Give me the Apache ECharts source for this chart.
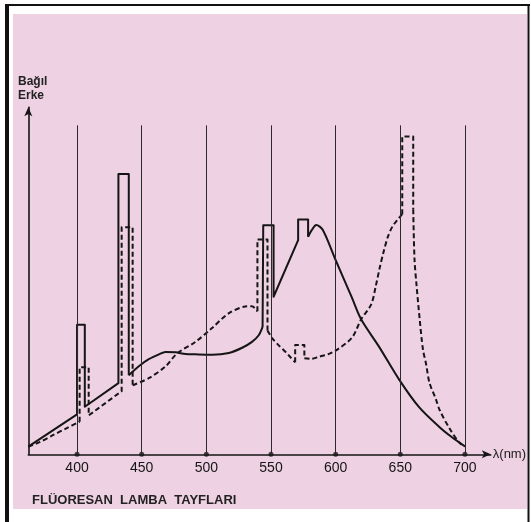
<!DOCTYPE html>
<html><head><meta charset="utf-8">
<script src="https://cdn.jsdelivr.net/npm/echarts@6/dist/echarts.min.js"></script>
<style>html,body{margin:0;padding:0;background:#fff}#c{width:531px;height:522px}</style>
</head><body><div id="c"></div>
<script>
// Wavelength ticks (nm)
const tickWavelengths = [400, 450, 500, 550, 600, 650, 700];
const gridLineTop = 94.8; // relative energy where the vertical guide lines stop

// Solid curve: wavelength (nm) and relative energy (0-100)
const solidWavelength = [362.3, 400, 400, 406, 406, 432, 432, 440, 440, 447.8, 455.5, 463.3, 468.4, 476.2, 483.9, 491.6, 504.5, 517.4, 527.7, 535.3, 540.5, 543.5, 544, 552, 552, 571, 571, 578.7, 578.7, 581.5, 585, 590, 599.4, 612.5, 619.7, 633.4, 649.5, 664.7, 680.4, 690, 700];
const solidEnergy     = [2.2, 11.5, 37.3, 37.3, 13.7, 20.5, 80.8, 80.8, 22.8, 25.4, 27.4, 28.8, 29.5, 29.4, 28.9, 28.8, 28.7, 29.2, 30.7, 32.4, 34.3, 36.7, 66.0, 66.0, 45.4, 61.7, 67.7, 67.7, 62.7, 64.6, 66.1, 64.7, 56.5, 45.2, 38.9, 31.1, 21.3, 13.5, 7.8, 4.9, 2.3];
// index ranges of the solid curve that are smooth continuum (the rest are mercury-line steps)
const solidSmoothSpans = [[8, 21], [28, 40]];

// Dashed curve: wavelength (nm) and relative energy (0-100)
const dashedWavelength = [362.3, 371, 381.3, 391.8, 402, 402, 409, 409, 434.5, 434.5, 443, 443, 455.8, 468.6, 477.5, 491.6, 504.4, 517.2, 530, 535.3, 537.5, 539.5, 539.5, 547.3, 547.3, 551, 556, 561.5, 564, 568.7, 568.7, 575.8, 575.8, 581, 587, 594, 601, 612.8, 619.7, 627.5, 631, 634, 637, 640.5, 644, 647.5, 651.5, 651.5, 660, 660, 661, 662.5, 665, 667.5, 670, 672.5, 677.5, 680.5, 688, 696, 700];
const dashedEnergy     = [2.2, 3.5, 5.5, 7.5, 9.4, 25.1, 25.1, 11.2, 18.2, 65.4, 65.4, 19.9, 22.0, 25.4, 29.1, 32.4, 36.4, 40.6, 42.6, 42.7, 42.1, 41.2, 61.9, 61.9, 35.7, 33.4, 31.4, 29.4, 28.4, 26.5, 31.5, 31.5, 27.7, 27.5, 28.1, 28.8, 30.1, 33.7, 38.9, 43.2, 48.4, 53.6, 58.2, 62.8, 65.7, 67.4, 69.2, 91.6, 91.6, 70.6, 56.2, 49.0, 38.9, 30.3, 25.9, 20.7, 15.9, 12.7, 7.5, 3.2, 2.3];
const dashedSmoothSpans = [[0, 4], [11, 21], [24, 29], [32, 46], [49, 60]];

const xAxisName = 'λ(nm)';
const yAxisName = 'Bağıl\nErke';
const titleText = 'FLÜORESAN  LAMBA  TAYFLARI';

const ink = '#151515';

function pieces(xs, ys, spans) {
  const pts = (a, b) => { const r = []; for (let i = a; i <= b; i++) r.push([xs[i], ys[i]]); return r; };
  const out = []; let cur = 0;
  spans.forEach(([a, b]) => {
    if (a > cur) out.push({smooth: false, data: pts(cur, a)});
    out.push({smooth: true, data: pts(a, b)});
    cur = b;
  });
  if (cur < xs.length - 1) out.push({smooth: false, data: pts(cur, xs.length - 1)});
  return out;
}

function lineSeries(parts, type) {
  return parts.map(p => ({
    type: 'line', z: 3, data: p.data, showSymbol: false,
    smooth: p.smooth ? 0.3 : false, silent: true,
    lineStyle: {color: ink, width: 2, type: type, join: 'round', cap: 'butt'}
  }));
}

const chart = echarts.init(document.getElementById('c'), null, {renderer: 'canvas'});
chart.setOption({
  animation: false,
  backgroundColor: '#eed1e2',
  title: {
    text: titleText, left: 27, top: 489,
    textStyle: {fontFamily: 'Liberation Sans', fontSize: 13, fontWeight: 'bold', color: '#222'}
  },
  grid: {left: 28.3, right: 40.2, top: 107.3, bottom: 67.7},
  xAxis: {
    type: 'value', min: 362.3, max: 720,
    name: xAxisName, nameLocation: 'end', nameGap: 2,
    nameTextStyle: {fontFamily: 'Liberation Sans', fontSize: 13, color: '#1a1a1a', verticalAlign: 'middle', padding: [12, 0, 0, 0]},
    axisLine: {show: true, symbol: ['none', 'arrow'], symbolSize: [6, 9], lineStyle: {color: ink, width: 1.6}},
    axisTick: {show: false, customValues: tickWavelengths},
    axisLabel: {customValues: tickWavelengths, margin: 7, fontFamily: 'Liberation Sans', fontSize: 14, color: '#151515'},
    splitLine: {show: false}
  },
  yAxis: {
    type: 'value', min: 0, max: 100,
    axisLine: {show: true, symbol: ['none', 'arrow'], symbolSize: [6, 9], lineStyle: {color: ink, width: 1.6}},
    axisTick: {show: false}, axisLabel: {show: false}, splitLine: {show: false}
  },
  graphic: [
    {type: 'rect', shape: {x: 0, y: 0, width: 13, height: 522}, style: {fill: '#fff'}, silent: true},
    {type: 'rect', shape: {x: 0, y: 0, width: 531, height: 14}, style: {fill: '#fff'}, silent: true},
    {type: 'rect', shape: {x: 527, y: 0, width: 4, height: 522}, style: {fill: '#fff'}, silent: true},
    {type: 'rect', shape: {x: 0, y: 509, width: 531, height: 13}, style: {fill: '#fff'}, silent: true},
    {type: 'rect', shape: {x: 5, y: 4, width: 4, height: 518}, style: {fill: '#111'}, silent: true},
    {type: 'rect', shape: {x: 5, y: 4, width: 525, height: 2}, style: {fill: '#111'}, silent: true},
    {type: 'rect', shape: {x: 527.5, y: 4, width: 2, height: 518}, style: {fill: '#111'}, silent: true},
    {type: 'text', left: 18, top: 75, style: {text: yAxisName, fontFamily: 'Liberation Sans', fontSize: 12, fontWeight: 'bold', lineHeight: 14, fill: '#222'}, silent: true}
  ],
  series: [
    {
      type: 'scatter', z: 1, symbol: 'circle', symbolSize: 5,
      itemStyle: {color: ink}, silent: true,
      data: tickWavelengths.map(w => [w, 0]),
      markLine: {
        silent: true, symbol: ['none', 'none'], label: {show: false},
        lineStyle: {color: '#2a2a2a', width: 1, type: 'solid'},
        data: tickWavelengths.map(w => [{coord: [w, 0]}, {coord: [w, gridLineTop]}])
      }
    }
  ].concat(
    lineSeries(pieces(solidWavelength, solidEnergy, solidSmoothSpans), 'solid'),
    lineSeries(pieces(dashedWavelength, dashedEnergy, dashedSmoothSpans), [5, 3])
  )
});
</script>
</body></html>
